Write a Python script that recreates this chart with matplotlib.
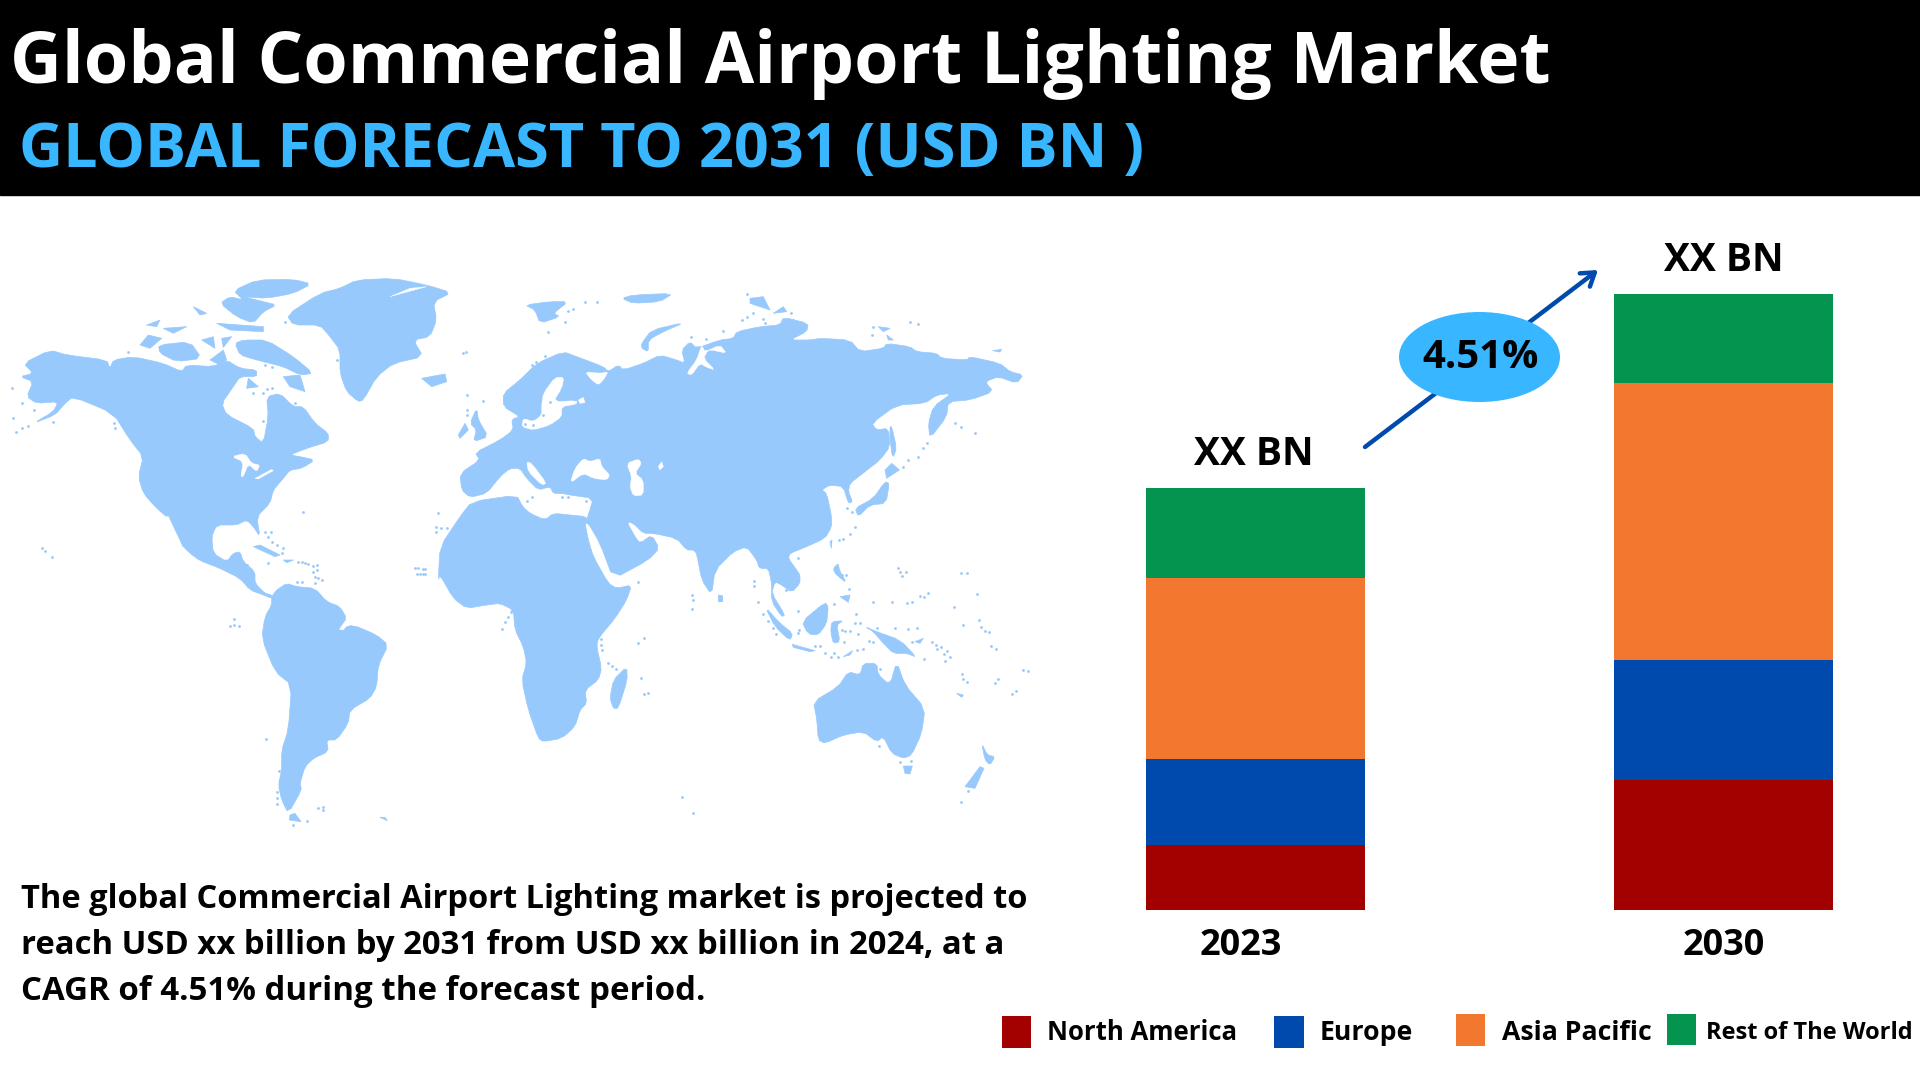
import matplotlib
matplotlib.use("Agg")
import matplotlib.pyplot as plt
from matplotlib.patches import Polygon, Rectangle, Ellipse, FancyArrowPatch
from matplotlib.transforms import ScaledTranslation

# ---------- data ----------
years = ["2023", "2030"]
regions = ["North America", "Europe", "Asia Pacific", "Rest of The World"]
north_america = [65, 130]
europe = [86, 120]
asia_pacific = [181, 277]
rest_of_world = [90, 89]
total_labels = ["XX BN", "XX BN"]
colors = ["#A30000", "#004AAD", "#F27830", "#059450"]
LAND = "#98C9FC"
SKY = "#38B6FF"
title = "Global Commercial Airport Lighting Market"
subtitle = "GLOBAL FORECAST TO 2031 (USD BN )"
body = ["The global Commercial Airport Lighting market is projected to",
        "reach USD xx billion by 2031 from USD xx billion in 2024, at a",
        "CAGR of 4.51% during the forecast period."]
cagr = "4.51%"

W, H = 1920, 1080
fig = plt.figure(figsize=(19.2, 10.8), dpi=100, facecolor="white")
bg = fig.add_axes([0, 0, 1, 1])
bg.set_xlim(0, W); bg.set_ylim(H, 0); bg.axis("off")
FONT = "Open Sans"
renderer = fig.canvas.get_renderer()

def fit(x, y, s, width, color="black", weight="bold", family=FONT, ax=bg, ha="left"):
    t = ax.text(x, y, s, color=color, fontweight=weight, family=family, fontsize=20,
                ha=ha, va="baseline", zorder=10)
    w = t.get_window_extent(renderer).width
    t.set_fontsize(20 * width / w)
    return t

# ---------- header ----------
bg.add_patch(Rectangle((0, 0), W, 194.5, color="black", zorder=1))
fit(10, 83, title, 1538, "white")
fit(19, 167, subtitle, 1126, SKY)

# ---------- world map (decorative outline, traced in zoom-crop coordinates) ----------
def Z1(p): return [(x / 3, 260 + y / 3) for x, y in p]
def Z2(p): return [(520 + x / 3, 260 + y / 3) for x, y in p]
def Z3(p): return [(200 + x / 3, 540 + y / 3) for x, y in p]
def Z4(p): return [(700 + x / 3, 560 + y / 3) for x, y in p]

def smooth(p):
    if len(p) < 5:
        return p
    out = []
    for i, (x0, y0) in enumerate(p):
        x1, y1 = p[(i + 1) % len(p)]
        out.append((0.8 * x0 + 0.2 * x1, 0.8 * y0 + 0.2 * y1))
        out.append((0.2 * x0 + 0.8 * x1, 0.2 * y0 + 0.8 * y1))
    return out

land = [
 Z1([(70,310),(150,270),(200,285),(320,300),(330,325),(340,300),(400,290),(490,310),(545,335),(560,315),(640,320),(680,300),(720,325),(770,330),(770,350),(720,350),(700,380),(665,430),(680,465),(760,505),(765,530),(790,550),(805,470),(800,410),(840,400),(880,440),(910,440),(945,490),(985,520),(985,545),(920,565),(870,585),(900,590),(945,600),(905,625),(870,630),(850,655),(820,690),(810,730),(770,770),(780,830),(760,800),(740,780),(710,795),(650,795),(635,830),(640,880),(680,905),(700,880),(720,875),(730,905),(765,935),(765,970),(795,1000),(815,1005),(815,1015),(790,1005),(750,990),(720,955),(660,925),(600,902),(570,880),(540,850),(500,770),(470,745),(430,700),(415,650),(430,590),(390,540),(340,460),(220,410),(195,430),(165,465),(100,490),(160,455),(175,425),(110,430),(80,410),(100,365),(60,350),(100,340)]),
 Z1([(880,195),(860,165),(960,100),(1020,85),(1070,60),(1180,55),(1280,75),(1355,98),(1300,125),(1310,180),(1290,230),(1240,240),(1270,290),(1180,310),(1130,350),(1090,420),(1075,425),(1040,395),(1020,340),(1020,270),(990,230),(960,195)]),
 Z1([(700,92),(770,60),(880,58),(935,72),(880,100),(800,115),(730,110),(790,125),(830,135),(790,155),(760,190),(710,170),(660,130),(690,110),(730,120)]),
 Z1([(705,250),(730,240),(800,240),(880,290),(940,340),(900,345),(850,320),(770,300),(720,285)]),
 Z1([(475,255),(570,245),(605,295),(530,305),(480,280)]),
 Z1([(420,255),(445,225),(485,235),(450,265)]),
 Z1([(440,195),(480,180),(470,200)]), Z1([(490,205),(560,200),(520,220)]),
 Z1([(605,240),(640,230),(645,265)]), Z1([(665,235),(695,230),(670,262)]),
 Z1([(650,190),(790,200),(790,215),(690,210)]), Z1([(630,300),(670,270),(680,300),(660,315)]),
 Z1([(580,140),(620,160),(600,165)]), Z1([(745,355),(775,380),(740,385)]),
 Z1([(850,350),(900,345),(915,395),(870,380)]),
 Z1([(1265,355),(1335,342),(1340,365),(1295,380)]),
 Z1([(1375,525),(1395,490),(1405,510),(1380,535)]),
 Z1([(1430,445),(1435,480),(1465,530),(1420,545),(1430,510),(1410,490)]),
 Z2([(-180,640),(-120,600),(-135,578),(-60,540),(-20,510),(-25,478),(0,470),(-50,440),(-50,400),(0,360),(50,310),(130,275),(170,290),(250,320),(265,335),(295,315),(310,330),(370,310),(420,285),(470,300),(495,310),(485,270),(510,245),(530,265),(600,240),(640,235),(650,215),(720,200),(780,195),(790,172),(865,190),(860,215),(810,240),(870,240),(900,235),(990,240),(1020,275),(1090,265),(1100,250),(1170,260),(1190,275),(1250,280),(1265,295),(1340,300),(1350,290),(1440,310),(1470,335),(1510,345),(1490,370),(1435,350),(1395,365),(1420,395),(1350,420),(1285,425),(1280,470),(1230,535),(1225,490),(1240,440),(1295,400),(1250,405),(1215,430),(1130,435),(1055,490),(1070,510),(1105,505),(1110,560),(1080,600),(1035,635),(990,670),(985,695),(998,725),(985,730),(970,680),(930,675),(905,690),(920,700),(935,770),(935,800),(915,835),(860,860),(810,880),(805,895),(830,930),(840,945),(840,970),(815,997),(785,975),(765,965),(755,1000),(795,1065),(785,1070),(755,1025),(755,970),(745,925),(718,925),(710,900),(680,860),(640,875),(585,930),(575,1005),(545,960),(530,880),(520,870),(500,870),(470,835),(400,820),(370,820),(340,790),(320,785),(345,830),(360,850),(395,825),(418,865),(385,900),(280,957),(240,850),(205,790),(195,790),(205,765),(220,715),(150,705),(125,700),(100,700),(90,680),(55,690),(20,655),(0,625),(-30,625),(-60,650),(-100,700),(-150,712),(-175,690)]),
 Z3([(715,120),(720,20),(780,-70),(815,-115),(950,-135),(968,-100),(990,-80),(1035,-60),(1060,-80),(1110,-75),(1160,-70),(1155,-50),(1165,0),(1180,50),(1225,130),(1250,145),(1295,135),(1280,180),(1245,235),(1195,295),(1190,320),(1205,385),(1195,420),(1155,450),(1160,490),(1140,510),(1125,560),(1085,595),(1030,605),(1015,595),(985,510),(965,420),(980,370),(970,320),(945,270),(940,210),(900,190),(860,195),(800,205),(760,175),(720,105)]),
 Z3([(1280,380),(1282,420),(1255,505),(1240,505),(1230,475),(1240,420)]),
 Z3([(215,170),(230,150),(260,130),(290,140),(345,145),(380,185),(420,200),(440,235),(420,265),(460,255),(530,285),(565,315),(535,375),(530,440),(510,475),(450,510),(445,550),(410,600),(380,600),(385,635),(340,655),(315,680),(300,730),(305,750),(265,820),(245,780),(235,735),(245,690),(245,630),(265,570),(275,435),(225,395),(185,295),(195,230),(215,195)]),
 Z3([(160,20),(180,15),(240,45),(225,50)]), Z3([(250,60),(280,60),(260,68)]),
 Z3([(270,825),(285,820),(303,845),(268,840)]), Z3([(540,832),(555,832),(562,842)]),
 Z2([(365,250),(395,210),(495,187),(430,215),(385,240),(385,275),(365,265)]),
 Z2([(15,135),(90,125),(145,125),(100,160),(120,170),(60,190),(45,150)]),
 Z2([(305,115),(340,105),(460,100),(420,125),(340,130)]),
 Z2([(690,115),(730,110),(750,150),(690,130)]), Z2([(760,160),(790,140),(800,155)]),
 Z2([(1075,200),(1110,205),(1090,215)]), Z2([(1100,225),(1120,240),(1105,240)]),
 Z2([(1418,272),(1445,268),(1440,276)]),
 Z2([(1110,500),(1115,500),(1130,565),(1118,595),(1110,540)]),
 Z2([(1095,630),(1115,610),(1138,630),(1100,655)]),
 Z2([(1005,745),(1060,715),(1095,665),(1108,670),(1098,730),(1050,735),(1015,770)]),
 Z2([(930,845),(936,840),(934,865)]),
 Z4([(55,105),(68,108),(68,125),(55,125)]),
 Z4([(340,425),(415,380),(445,335),(480,345),(490,310),(530,310),(535,345),(570,375),(590,305),(615,375),(675,445),(665,520),(635,585),(610,595),(575,580),(550,530),(530,545),(490,515),(430,525),(375,550),(355,540),(350,475)]),
 Z4([(610,618),(637,618),(630,642),(615,640)]),
 Z4([(845,550),(862,585),(885,590),(870,615),(855,600)]),
 Z4([(840,620),(852,625),(825,685),(795,680)]),
 Z4([(495,200),(530,215),(600,240),(650,292),(620,280),(580,280),(550,250),(520,215)]),
 Z4([(305,185),(375,127),(385,140),(380,190),(355,225),(325,222)]),
 Z4([(195,140),(240,190),(278,220),(270,242),(225,200)]),
 Z4([(277,253),(345,272),(330,275),(280,262)]),
 Z4([(395,185),(430,182),(410,195),(420,245),(400,250),(392,215)]),
 Z4([(400,25),(415,10),(418,30),(440,70),(405,40)]),
 Z4([(420,110),(450,105),(445,127)]), Z4([(645,245),(670,235),(660,250)]),
 Z4([(430,290),(458,272),(450,285)]), Z4([(770,400),(790,405),(785,412)]),
]
water = [
 Z1([(495,770),(505,770),(545,855),(530,850)]),
 Z1([(1170,110),(1280,80),(1230,85)]),
 Z1([(695,590),(735,580),(755,610),(780,615),(770,635),(745,612),(730,650),(722,650),(730,605)]),
 Z1([(765,655),(815,628),(820,632),(775,657)]),
 Z2([(150,670),(165,625),(190,595),(210,605),(240,595),(245,620),(270,645),(260,660),(220,655),(190,640)]),
 Z2([(320,610),(355,597),(365,610),(345,640),(370,660),(370,705),(340,708),(330,680),(335,650)]),
 Z2([(415,620),(425,605),(430,620),(420,630)]),
 Z2([(65,435),(70,400),(105,352),(132,352),(125,385),(100,425),(170,422),(170,432),(125,440),(125,470),(90,495),(40,510),(5,500),(10,475),(40,485),(65,465)]),
 Z2([(175,420),(190,412),(195,428),(180,430)]),
 Z2([(195,335),(240,340),(265,335),(250,360),(235,375),(215,360)]),
 Z2([(500,340),(530,300),(545,255),(555,275),(600,255),(620,280),(585,272),(565,270),(550,295),(585,330),(560,322),(540,310),(515,345)]),
 Z2([(20,605),(35,610),(80,670),(65,675),(25,635)]),
 Z3([(418,268),(440,238),(445,250),(430,270)]),
]
dots = (
 Z1([(35,385),(65,428),(38,475),(48,515),(65,505),(85,497),(160,485),(103,450),(125,865),(135,873),(155,890),(342,490),(345,505),(385,275),(910,755),(1315,758),(1308,800),(1322,805),(1340,803),(1308,815),(1245,925),(1268,928),(1252,942),(1268,942),(1400,405),(1400,450),(1400,465),(1448,423),(1390,280),(1398,275),(795,815),(812,815),(805,830),(815,845),(830,855),(850,865),(845,878),(805,908),(742,915),(895,905),(915,910),(940,918),(940,935),(945,950),(790,300),(795,315),(815,322),(800,388),(815,385),(760,400),(790,400),(788,482),(885,428),(715,560),(788,602),(812,590),(855,185),(1010,300)]),
 Z2([(195,127),(232,127),(145,152),(160,148),(135,187),(85,217),(680,102),(665,180),(680,170),(700,158),(728,178),(735,190),(812,160),(820,180),(608,212),(512,232),(557,236),(1060,202),(1055,225),(1170,185),(1195,193),(1305,488),(1323,502),(1365,520),(1220,548),(1210,565),(1195,590),(1165,600),(1148,620),(1135,925),(1140,937),(1323,938),(958,840),(970,838),(990,822),(1005,802),(980,745),(995,755),(965,945),(835,893),(35,710),(20,722),(125,712),(145,710),(105,690),(198,724),(90,425),(70,465),(40,495),(15,493),(35,315),(75,287),(48,305)]),
 Z3([(103,238),(90,257),(103,255),(117,258),(198,598),(238,693),(232,757),(232,775),(230,793),(355,803),(370,800),(368,810),(320,842),(278,855),(655,85),(675,88),(660,102),(675,102),(932,215),(925,230),(915,245),(907,268),(1203,298),(1203,315),(1205,330),(1225,368),(1237,378),(1247,387),(1315,310),(1332,293),(1322,413),(1332,463),(1345,460),(1315,127),(1475,165),(1478,180),(1477,208),(1445,772),(1478,820),(355,115),(345,130),(367,120),(350,90),(350,75),(305,65),(325,72),(290,125),(305,127)]),
 Z4([(163,62),(163,77),(173,125),(190,163),(205,182),(218,205),(228,222),(295,153),(298,210),(293,218),(258,90),(403,132),(448,88),(438,45),(607,48),(617,35),(802,38),(830,102),(660,108),(672,112),(683,100),(622,130),(635,125),(575,125),(520,125),(763,140),(837,180),(843,200),(855,212),(867,215),(790,195),(872,257),(888,267),(786,343),(790,357),(801,365),(885,368),(895,357),(937,403),(947,393),(970,329),(983,333),(784,726),(805,694),(468,163),(480,190),(530,205),(585,205),(625,208),(652,205),(635,245),(695,247),(708,255),(722,262),(740,272),(712,267),(732,282),(750,292),(736,302),(672,298),(541,326),(600,606),(632,604),(538,558),(345,258),(360,258),(375,278),(403,279),(392,290),(413,292),(490,268),(472,270),(433,247),(507,243),(520,247),(450,212),(436,212),(425,210),(475,222),(465,188)]),
)
for p in land:
    bg.add_patch(Polygon(smooth(p), closed=True, fc=LAND, ec=LAND, lw=0.5, zorder=2, joinstyle="round"))
for p in water:
    bg.add_patch(Polygon(smooth(p), closed=True, fc="white", ec="white", lw=0.3, zorder=3))
for d in dots:
    bg.scatter([q[0] for q in d], [q[1] for q in d], s=4, color=LAND, lw=0, zorder=4)

# ---------- body text ----------
for ln, yy, wd in zip(body, [908, 954, 1000], [1005, 984, 683]):
    fit(21, yy, ln, wd)

# ---------- stacked bars (1 value unit = 1 px of axes height) ----------
L, R, B, T = 1100, 1900, 910, 280
ax = fig.add_axes([L / W, 1 - B / H, (R - L) / W, (B - T) / H], facecolor="none")
ax.set_xlim((L - 1255.5) / 468, (R - 1255.5) / 468)
ax.set_ylim(0, B - T)
xs = [0, 1]
bottom = [0, 0]
for vals, c in zip([north_america, europe, asia_pacific, rest_of_world], colors):
    ax.bar(xs, vals, width=219 / 468, bottom=bottom, color=c, linewidth=0)
    bottom = [b + v for b, v in zip(bottom, vals)]
for s in ax.spines.values():
    s.set_visible(False)
ax.set_yticks([])
ax.set_xticks(xs, years, fontsize=26, fontweight="bold", family=FONT)
ax.tick_params(axis="x", length=0, pad=13)
ax.get_xticklabels()[0].set_transform(
    ax.get_xticklabels()[0].get_transform() + ScaledTranslation(-15 / 100, 0, fig.dpi_scale_trans))
for x, top, s, dx in zip(xs, bottom, total_labels, [-2, 0]):
    ax.annotate(s, (x, top), xytext=(dx * 0.72, 10), textcoords="offset points", ha="center",
                va="bottom", fontsize=28, fontweight="bold", family=FONT)

# ---------- growth arrow ----------
bg.add_patch(FancyArrowPatch((1365, 447), (1598, 270), arrowstyle="->,head_length=9,head_width=6",
                             color="#004AAD", lw=3.2, shrinkA=0, shrinkB=0, zorder=5))
bg.add_patch(Ellipse((1479.5, 357), 161, 90, color=SKY, lw=0, zorder=6))
bg.text(1481, 368, cagr, fontsize=29, fontweight="bold", family=FONT, ha="center", va="baseline", zorder=10)

# ---------- legend ----------
squares = [(1002, 1016, 29, 32), (1274, 1016, 30, 32), (1456, 1014, 29, 32), (1667, 1014, 29, 31)]
texts = [(1047, 1040, 190), (1320, 1040, 93), (1502, 1040, 149), (1706, 1039, 207)]
for r, (x, y, w, h), (tx, ty, tw), c in zip(regions, squares, texts, colors):
    bg.add_patch(Rectangle((x, y), w, h, color=c, lw=0, zorder=5))
    fit(tx, ty, r, tw)

fig.savefig("out.png", dpi=100)
